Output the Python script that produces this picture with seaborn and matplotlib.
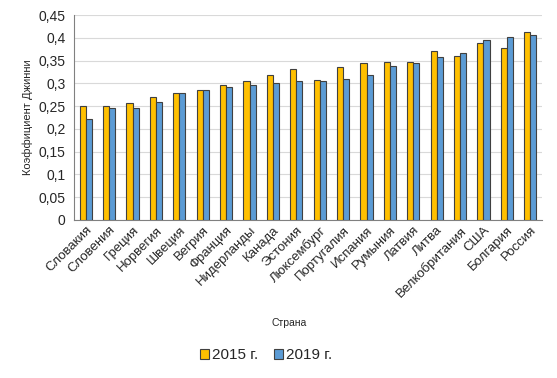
import numpy as np
import pandas as pd
import matplotlib
matplotlib.use('Agg')
import matplotlib.pyplot as plt
import seaborn as sns

# Data
countries = ['Словакия', 'Словения', 'Греция', 'Норвегия', 'Швеция', 'Вегрия',
             'Франция', 'Нидерланды', 'Канада', 'Эстония', 'Люксембург',
             'Португалия', 'Испания', 'Румыния', 'Латвия', 'Литва',
             'Велкобритания', 'США', 'Болгария', 'Россия']
gini_2015 = [0.250, 0.250, 0.257, 0.271, 0.278, 0.285, 0.296, 0.306, 0.318, 0.331,
             0.307, 0.336, 0.345, 0.346, 0.346, 0.372, 0.360, 0.389, 0.377, 0.412]
gini_2019 = [0.222, 0.246, 0.247, 0.260, 0.279, 0.286, 0.293, 0.296, 0.301, 0.305,
             0.305, 0.309, 0.319, 0.339, 0.345, 0.357, 0.366, 0.395, 0.402, 0.407]
years = ['2015 г.', '2019 г.']
colors = ['#FFC000', '#5B9BD5']
yticks = [0, 0.05, 0.1, 0.15, 0.2, 0.25, 0.3, 0.35, 0.4, 0.45]

df = pd.DataFrame({
    'Страна': countries * 2,
    'Коэффициент': gini_2015 + gini_2019,
    'Год': [years[0]] * len(countries) + [years[1]] * len(countries),
})

sns.set_style('white')
plt.rcParams['font.family'] = ['Liberation Sans', 'DejaVu Sans']

fig = plt.figure(figsize=(5.57, 3.78), dpi=100)
ax = fig.add_axes([0.133, 0.418, 0.840, 0.542])

sns.barplot(data=df, x='Страна', y='Коэффициент', hue='Год', order=countries,
            hue_order=years, palette=colors, saturation=1, width=0.52, gap=0,
            edgecolor='#404040', linewidth=0.8, ax=ax, legend=True, zorder=3)

ax.set_ylim(0, 0.45)
ax.set_yticks(yticks)
ax.set_yticklabels([('%g' % t).replace('.', ',') for t in yticks], fontsize=10)
ax.set_xlim(-0.5, len(countries) - 0.5)
ax.yaxis.grid(True, color='#D9D9D9', linewidth=0.8, zorder=0)
ax.set_axisbelow(True)
for s in ['top', 'right']:
    ax.spines[s].set_visible(False)
ax.spines['left'].set_color('#808080')
ax.spines['bottom'].set_color('#808080')
ax.tick_params(axis='y', length=0, pad=6)
ax.tick_params(axis='x', length=0, pad=3)
plt.setp(ax.get_xticklabels(), rotation=45, ha='right', rotation_mode='anchor', fontsize=9.5)

ax.set_ylabel('Коэффициент Джинни', fontsize=8)
ax.set_xlabel('Страна', fontsize=7.5)
ax.xaxis.set_label_coords(0.46, -0.48)

ax.legend(loc='center', bbox_to_anchor=(0.41, -0.66), ncol=2, frameon=False,
          fontsize=11, handlelength=0.6, handleheight=0.6, handletextpad=0.2,
          columnspacing=1.0)

fig.savefig('out.png', dpi=100)
